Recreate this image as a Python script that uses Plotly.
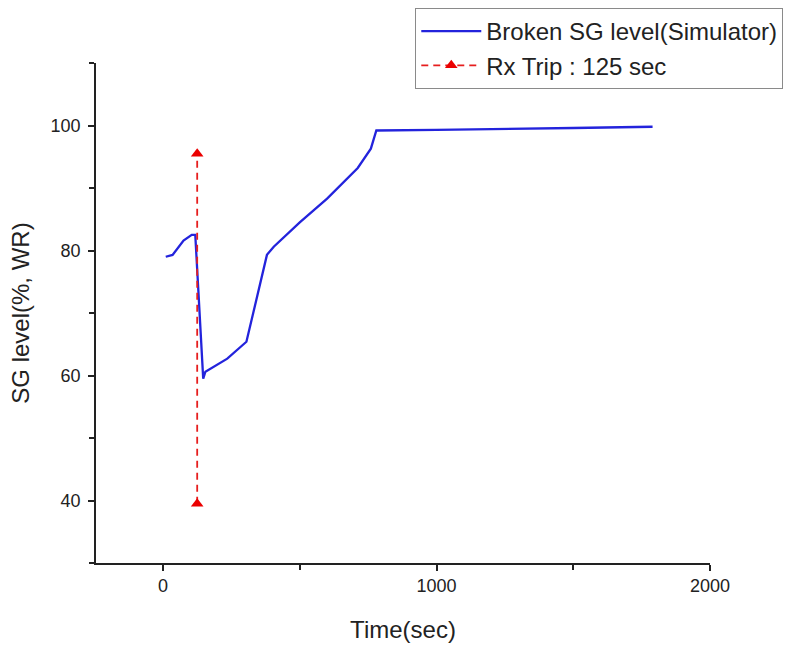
import plotly.graph_objects as go

# Broken steam generator level from the simulator run
time_sec = [10, 35, 75, 105, 118, 147, 155, 235, 305, 380, 405, 500, 600, 700, 712, 760, 780, 1000, 1250, 1500, 1790]
sg_level = [79.0, 79.3, 81.6, 82.5, 82.5, 59.5, 60.6, 62.7, 65.4, 79.3, 80.6, 84.5, 88.3, 92.6, 93.2, 96.3, 99.2, 99.3, 99.4, 99.6, 99.8]

# Reactor trip marker line
trip_time = [125, 125]
trip_level = [39.5, 95.5]

x_ticks = [0, 1000, 2000]
y_ticks = [40, 60, 80, 100]

font_family = "Liberation Sans, Arial, sans-serif"
ink = "#222222"

fig = go.Figure()
fig.add_trace(go.Scatter(
    x=time_sec, y=sg_level, mode="lines",
    name="Broken SG level(Simulator)",
    line=dict(color="rgb(35,35,220)", width=2.3),
))
fig.add_trace(go.Scatter(
    x=trip_time, y=trip_level, mode="lines+markers",
    name="Rx Trip : 125 sec",
    line=dict(color="rgb(230,30,30)", width=1.8, dash="7px,5px"),
    marker=dict(symbol="triangle-up", size=11, color="rgb(235,0,0)"),
))

fig.update_layout(
    width=810, height=648,
    margin=dict(l=96, r=100, t=63, b=85, autoexpand=False),
    paper_bgcolor="white", plot_bgcolor="white",
    font=dict(family=font_family, color=ink, size=18),
    legend=dict(
        x=0.52, y=1.11, xanchor="left", yanchor="top",
        bordercolor="#8a8a8a", borderwidth=1, bgcolor="white",
        font=dict(size=24, color=ink, family=font_family),
        tracegroupgap=0, itemwidth=60,
    ),
    showlegend=True,
)

fig.update_xaxes(
    range=[-245, 2000], tickvals=x_ticks, ticktext=[str(v) for v in x_ticks],
    showline=True, linecolor=ink, linewidth=1.5,
    ticks="outside", ticklen=6, tickwidth=1.5, tickcolor=ink,
    minor=dict(dtick=500, tick0=0, ticks="outside", ticklen=5, tickcolor=ink, tickwidth=1.5),
    showgrid=False, zeroline=False,
    tickfont=dict(size=18, color=ink, family=font_family),
    title=dict(text="Time(sec)", font=dict(size=24, color=ink, family=font_family), standoff=26),
)
fig.update_yaxes(
    range=[30, 110], tickvals=y_ticks, ticktext=[str(v) for v in y_ticks],
    showline=True, linecolor=ink, linewidth=1.5,
    ticks="outside", ticklen=6, tickwidth=1.5, tickcolor=ink,
    minor=dict(dtick=10, tick0=0, ticks="outside", ticklen=5, tickcolor=ink, tickwidth=1.5),
    showgrid=False, zeroline=False,
    ticklabelstandoff=4,
    tickfont=dict(size=18, color=ink, family=font_family),
    title=dict(text="SG level(%, WR)", font=dict(size=24, color=ink, family=font_family), standoff=14),
)

fig.write_html("out.html")
